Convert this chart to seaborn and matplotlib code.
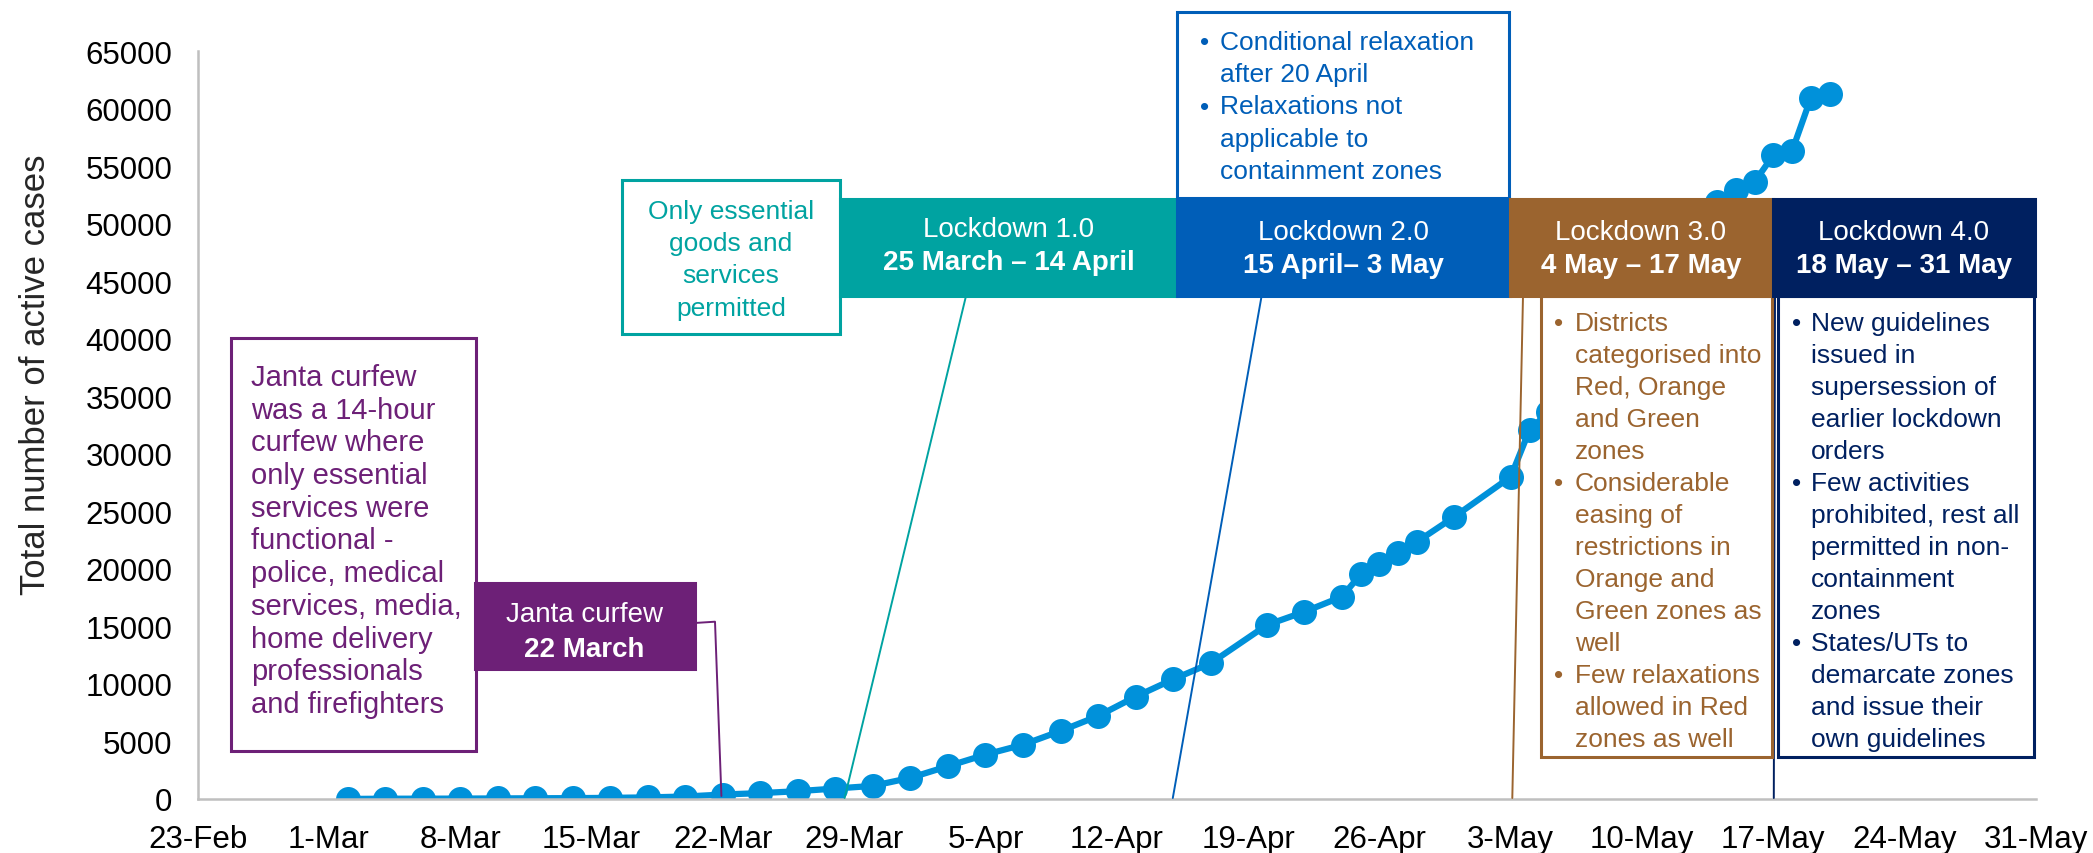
import matplotlib
matplotlib.use("Agg")
import matplotlib.pyplot as plt
import pandas as pd
import seaborn as sns
from matplotlib.patches import Rectangle
from matplotlib.lines import Line2D

# active COVID-19 cases (6-13 May hidden behind boxes, estimated)
dates = ['2020-03-02', '2020-03-04', '2020-03-06', '2020-03-08', '2020-03-10',
         '2020-03-12', '2020-03-14', '2020-03-16', '2020-03-18', '2020-03-20',
         '2020-03-22', '2020-03-24', '2020-03-26', '2020-03-28', '2020-03-30',
         '2020-04-01', '2020-04-03', '2020-04-05', '2020-04-07', '2020-04-09',
         '2020-04-11', '2020-04-13', '2020-04-15', '2020-04-17', '2020-04-20',
         '2020-04-22', '2020-04-24', '2020-04-25', '2020-04-26', '2020-04-27',
         '2020-04-28', '2020-04-30', '2020-05-03', '2020-05-04', '2020-05-05',
         '2020-05-06', '2020-05-07', '2020-05-08', '2020-05-09', '2020-05-10',
         '2020-05-11', '2020-05-12', '2020-05-13', '2020-05-14', '2020-05-15',
         '2020-05-16', '2020-05-17', '2020-05-18', '2020-05-19', '2020-05-20']
cases = [5, 25, 28, 36, 50, 65, 75, 100, 140, 215,
         390, 510, 680, 910, 1140, 1840, 2850, 3860, 4720, 5910,
         7210, 8890, 10400, 11790, 15120, 16270, 17580, 19520, 20420, 21350,
         22350, 24530, 28000, 32060, 33600, 35500, 37000, 37900, 39800, 41400,
         43900, 46000, 48500, 51890, 52910, 53630, 55950, 56320, 60930, 61230]

y_ticks = list(range(0, 65001, 5000))
x_start, x_end = '2020-02-23', '2020-05-31'

janta_lines = ['Janta curfew', 'was a 14-hour', 'curfew where', 'only essential',
               'services were', 'functional -', 'police, medical', 'services, media,',
               'home delivery', 'professionals', 'and firefighters']
ess_lines = ['Only essential', 'goods and', 'services', 'permitted']
l2_lines = [('•', 'Conditional relaxation'), ('', 'after 20 April'),
            ('•', 'Relaxations not'), ('', 'applicable to'), ('', 'containment zones')]
l3_lines = [('•', 'Districts'), ('', 'categorised into'), ('', 'Red, Orange'),
            ('', 'and Green'), ('', 'zones'), ('•', 'Considerable'), ('', 'easing of'),
            ('', 'restrictions in'), ('', 'Orange and'), ('', 'Green zones as'),
            ('', 'well'), ('•', 'Few relaxations'), ('', 'allowed in Red'),
            ('', 'zones as well')]
l4_lines = [('•', 'New guidelines'), ('', 'issued in'), ('', 'supersession of'),
            ('', 'earlier lockdown'), ('', 'orders'), ('•', 'Few activities'),
            ('', 'prohibited, rest all'), ('', 'permitted in non-'), ('', 'containment'),
            ('', 'zones'), ('•', 'States/UTs to'), ('', 'demarcate zones'),
            ('', 'and issue their'), ('', 'own guidelines')]

LINE = '#0091DA'
PURPLE = '#6D2077'
TEAL = '#00A3A1'
BLUE = '#005EB8'
BROWN = '#9B642F'
NAVY = '#002060'
GREY = '#BFBFBF'

sns.set_style('white')
plt.rcParams['font.family'] = ['Liberation Sans', 'DejaVu Sans']

W, H = 2093, 854
fig = plt.figure(figsize=(W / 100, H / 100), dpi=100)
ax = fig.add_axes([197.6 / W, 54 / H, (2036 - 197.6) / W, (800 - 52) / H])

df = pd.DataFrame({'date': pd.to_datetime(dates), 'cases': cases})
sns.lineplot(data=df, x='date', y='cases', ax=ax, color=LINE, linewidth=4.5,
             marker='o', markersize=18, markeredgewidth=0, zorder=2)

ax.set_xlim(pd.Timestamp(x_start), pd.Timestamp(x_end))
ax.set_ylim(0, 65000)
ax.set_yticks(y_ticks)
xt = pd.date_range(x_start, x_end, freq='7D')
ax.set_xticks(xt)
ax.set_xticklabels([f'{d.day}-{d:%b}' for d in xt])
ax.set_xlabel('')
ax.set_ylabel('Total number of active cases', fontsize=25)
ax.yaxis.set_label_coords(-0.079, 0.568)
ax.tick_params(axis='y', length=0, pad=18, labelsize=22.5, colors='black')
ax.tick_params(axis='x', length=7, width=1.5, color=GREY, pad=11, labelsize=22.5,
               labelcolor='black')
sns.despine(ax=ax)
for s in ['left', 'bottom']:
    ax.spines[s].set_color(GREY)
    ax.spines[s].set_linewidth(1.8)


# annotation helpers, positions in figure pixels from the top-left corner
def fx(x):
    return x / W


def fy(y):
    return 1 - y / H


def box(x0, y0, x1, y1, face, edge, lw=2.2):
    ax.add_patch(Rectangle((fx(x0), fy(y1)), fx(x1) - fx(x0), fy(y0) - fy(y1),
                           transform=fig.transFigure, facecolor=face, edgecolor=edge,
                           lw=lw, zorder=4, clip_on=False))


def connector(xs, ys, color):
    ax.add_line(Line2D([fx(x) for x in xs], [fy(y) for y in ys],
                       transform=fig.transFigure, color=color, lw=1.4,
                       zorder=3.5, clip_on=False))


def txt(x, y, s, color, ha='left', weight='normal', size=19):
    ax.text(fx(x), fy(y), s, transform=fig.transFigure, ha=ha, va='center',
            color=color, fontsize=size, fontweight=weight, zorder=6, clip_on=False)


# Janta curfew
connector([694.6, 715, 721.4], [624, 622.7, 797], PURPLE)
box(231, 339, 476, 752, 'white', PURPLE)
for i, s in enumerate(janta_lines):
    txt(251, 378 + i * 32.7, s, PURPLE, size=21)
box(475, 584, 694.6, 670, PURPLE, PURPLE)
txt(584.5, 615, 'Janta curfew', 'white', ha='center', size=20)
txt(584.5, 650, '22 March', 'white', ha='center', weight='bold', size=20)

# Lockdown 1.0
connector([966, 844.6], [297, 799], TEAL)
box(622, 181, 840, 335, 'white', TEAL)
for i, s in enumerate(ess_lines):
    txt(731, 211.7 + i * 32.3, s, TEAL, ha='center')
box(840, 200, 1177, 297, TEAL, TEAL)
txt(1008.5, 230, 'Lockdown 1.0', 'white', ha='center', size=20)
txt(1008.5, 263.5, '25 March – 14 April', 'white', ha='center', weight='bold', size=20)

# Lockdown 2.0
connector([1261.6, 1172.8], [297, 799], BLUE)
box(1177, 12.7, 1509, 199, 'white', BLUE)
for i, (b, s) in enumerate(l2_lines):
    txt(1200, 43.3 + i * 32.1, b, BLUE)
    txt(1220, 43.3 + i * 32.1, s, BLUE)
box(1177, 200, 1510, 297, BLUE, BLUE)
txt(1343, 233, 'Lockdown 2.0', 'white', ha='center', size=20)
txt(1343, 266.5, '15 April– 3 May', 'white', ha='center', weight='bold', size=20)

# Lockdown 3.0
connector([1523, 1512.3], [297, 799], BROWN)
box(1541, 297, 1772, 757.7, 'white', BROWN)
for i, (b, s) in enumerate(l3_lines):
    txt(1554, 323.9 + i * 32.0, b, BROWN)
    txt(1575, 323.9 + i * 32.0, s, BROWN)
box(1510, 200, 1772.6, 297, BROWN, BROWN)
txt(1641, 233, 'Lockdown 3.0', 'white', ha='center', size=20)
txt(1641, 266.5, '4 May – 17 May', 'white', ha='center', weight='bold', size=20)

# Lockdown 4.0
connector([1775, 1773.8], [297, 799], NAVY)
box(1777.6, 297, 2033.5, 757.7, 'white', NAVY)
for i, (b, s) in enumerate(l4_lines):
    txt(1791.6, 323.9 + i * 32.0, b, NAVY)
    txt(1810.6, 323.9 + i * 32.0, s, NAVY)
box(1772.6, 200, 2035, 297, NAVY, NAVY)
txt(1904, 233, 'Lockdown 4.0', 'white', ha='center', size=20)
txt(1904, 266.5, '18 May – 31 May', 'white', ha='center', weight='bold', size=20)

fig.savefig('out.png', dpi=100)
